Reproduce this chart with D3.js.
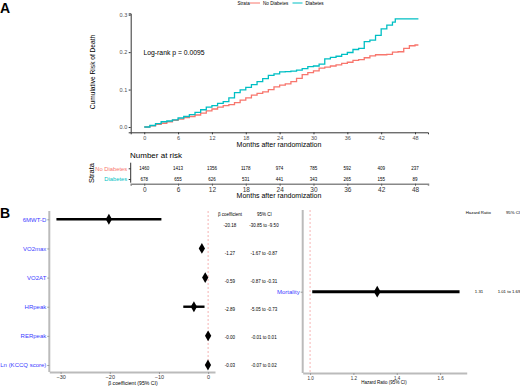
<!DOCTYPE html>
<html><head><meta charset="utf-8">
<script src="https://cdn.jsdelivr.net/npm/d3@7"></script>
<style>body{margin:0;background:#fff}svg{display:block;font-family:"Liberation Sans",Arial,sans-serif}</style>
</head><body><svg id="c" width="520" height="387"></svg>
<script>
// ---- Panel A data ----
const kmTicks = [0,6,12,18,24,30,36,42,48];
const riskTicks = [0,0.1,0.2,0.3];
const noDiabTime = [0,1,2,3,4,5,6,7,8,9,10,11,12,13,14,15,16,17,18,19,20,21,22,23,24,25,26,27,28,29,30,31,32,33,34,35,36,37,38,39,40,41,42,43,44,45,46,47,48,48.6];
const noDiabRisk = [0,0.003,0.007,0.010,0.014,0.018,0.021,0.025,0.028,0.032,0.037,0.043,0.048,0.053,0.057,0.060,0.065,0.072,0.078,0.085,0.090,0.094,0.100,0.107,0.112,0.115,0.121,0.130,0.140,0.145,0.150,0.157,0.160,0.163,0.166,0.170,0.173,0.178,0.180,0.185,0.190,0.193,0.193,0.194,0.200,0.201,0.210,0.217,0.219,0.219];
const diabTime = [0,1,2,3,4,5,6,7,8,9,10,11,12,13,14,15,16,17,18,19,20,21,22,23,24,25,26,27,28,29,30,31,32,33,34,35,36,37,38,39,40,41,42,43,44,44.5,48.6];
const diabRisk = [0,0.004,0.009,0.014,0.016,0.019,0.024,0.028,0.033,0.039,0.046,0.053,0.057,0.063,0.068,0.078,0.092,0.099,0.106,0.113,0.121,0.129,0.138,0.142,0.147,0.148,0.149,0.152,0.156,0.161,0.163,0.168,0.182,0.186,0.189,0.194,0.199,0.207,0.210,0.228,0.232,0.245,0.262,0.272,0.280,0.289,0.289];
const strata = ["No Diabetes","Diabetes"];
const strataColors = ["#F8766D","#00BFC4"];
const atRiskNoDiab = [1460,1413,1356,1178,974,785,592,409,237];
const atRiskDiab = [678,655,626,531,441,343,265,155,89];

// ---- Panel B data ----
const outcomes = ["6MWT-D","VO2max","VO2AT","HRpeak","RERpeak","Ln (KCCQ score)"];
const beta = [-20.18,-1.27,-0.59,-2.89,-0.00,-0.03];
const betaLo = [-30.85,-1.67,-0.87,-5.05,-0.01,-0.07];
const betaHi = [-9.50,-0.87,-0.31,-0.73,0.01,0.02];
const betaTicks = [-30,-20,-10,0];
const hrOutcome = ["Mortality"];
const hr = [1.31];
const hrLo = [1.01];
const hrHi = [1.69];
const hrTicks = [1.0,1.2,1.4,1.6];

const svg = d3.select("#c");
const FONT = '"Liberation Sans",Arial,sans-serif';
function txt(g,x,y,s,size,opts={}){
  const t=g.append("text").attr("x",x).attr("y",y).text(s).attr("font-size",size)
    .attr("dominant-baseline","central").attr("fill",opts.fill||"#000")
    .attr("text-anchor",opts.anchor||"start");
  if(opts.weight) t.attr("font-weight",opts.weight);
  if(opts.rotate) t.attr("transform",`rotate(${opts.rotate},${x},${y})`);
  return t;
}

// ===== Panel A =====
txt(svg,0,8,"A",14,{weight:"bold"});
const x = d3.scaleLinear().domain([-2.4,50.3]).range([130.7,428]);
const y = d3.scaleLinear().domain([-0.0142,0.3036]).range([132.3,13.35]);
const gA = svg.append("g");
// axes
const xAx = gA.append("g").attr("transform",`translate(0,${y(-0.0142)})`)
  .call(d3.axisBottom(x).tickValues(kmTicks).tickSize(2).tickPadding(1.5).tickFormat(d3.format("d")));
const yAx = gA.append("g").attr("transform",`translate(${x(-2.4)},0)`)
  .call(d3.axisLeft(y).tickValues(riskTicks).tickSize(2).tickPadding(1.5).tickFormat(d3.format(".1f")));
[xAx,yAx].forEach(a=>{
  a.select(".domain").attr("stroke","#333").attr("stroke-width",1);
  a.selectAll(".tick line").attr("stroke","#333");
  a.selectAll("text").attr("font-size",5.5).attr("fill","#4d4d4d").attr("font-family",FONT);
});
txt(gA,92,72,"Cumulative Risk of Death",6.6,{anchor:"middle",rotate:-90});
txt(gA,279,144,"Months after randomization",7,{anchor:"middle"});
txt(gA,143.5,52.3,"Log-rank p = 0.0095",6.8);
const line = d3.line().x(d=>x(d[0])).y(d=>y(d[1])).curve(d3.curveStepAfter);
[[noDiabTime,noDiabRisk],[diabTime,diabRisk]].forEach((s,i)=>{
  gA.append("path").datum(d3.zip(s[0],s[1])).attr("d",line)
    .attr("fill","none").attr("stroke",strataColors[i]).attr("stroke-width",1.3);
});
// legend
txt(svg,237.5,3,"Strata",4.6);
const legX=[250,292.5];
strata.forEach((s,i)=>{
  svg.append("line").attr("x1",legX[i]).attr("x2",legX[i]+10).attr("y1",3).attr("y2",3)
    .attr("stroke",strataColors[i]).attr("stroke-width",1);
  txt(svg,legX[i]+13,3,s,4.6);
});

// ===== Number at risk =====
const gT = svg.append("g");
txt(gT,130,155.7,"Number at risk",8);
const yT = d3.scalePoint().domain(strata).range([168.3,179]);
const tX = gT.append("g").attr("transform","translate(0,183.7)")
  .call(d3.axisBottom(x).tickValues(kmTicks).tickSize(2).tickPadding(1.5).tickFormat(d3.format("d")));
tX.select(".domain").attr("stroke","#888").attr("stroke-width",1.5);
tX.selectAll(".tick line").attr("stroke","#555");
tX.selectAll("text").attr("font-size",6.5).attr("fill","#333").attr("font-family",FONT);
const tY = gT.append("g").attr("transform",`translate(${x(-2.4)},0)`)
  .call(d3.axisLeft(yT).tickSize(2).tickPadding(1.5).tickSizeOuter(0));
tY.select(".domain").attr("stroke","#333").attr("d",`M-0,162.7V182.7`);
tY.selectAll(".tick line").attr("stroke","#333");
tY.selectAll("text").attr("font-size",5.8).attr("font-family",FONT).attr("fill",(d,i)=>strataColors[i]);
txt(gT,91.5,173,"Strata",7.5,{anchor:"middle",rotate:-90});
[atRiskNoDiab,atRiskDiab].forEach((arr,i)=>{
  arr.forEach((v,j)=>txt(gT,x(kmTicks[j]),yT(strata[i]),v,4.5,{anchor:"middle"}));
});
txt(gT,279,195.7,"Months after randomization",7,{anchor:"middle"});

// ===== Panel B left =====
txt(svg,0,213,"B",14,{weight:"bold"});
const gB = svg.append("g");
const bx = d3.scaleLinear().domain([-32.3,1.4]).range([49.3,215]);
const by = d3.scalePoint().domain(outcomes).range([219.3,365]);
const bxAx = gB.append("g").attr("transform","translate(0,372)")
  .call(d3.axisBottom(bx).tickValues(betaTicks).tickSize(2).tickPadding(1.5).tickSizeOuter(0));
bxAx.select(".domain").attr("stroke","#bbb").attr("stroke-width",2);
bxAx.selectAll(".tick line").attr("stroke","#999");
bxAx.selectAll("text").attr("font-size",5.5).attr("fill","#333").attr("font-family",FONT);
const byAx = gB.append("g").attr("transform",`translate(${bx(-32.3)},0)`)
  .call(d3.axisLeft(by).tickSize(2).tickPadding(1).tickSizeOuter(0));
byAx.select(".domain").attr("stroke","#bbb").attr("stroke-width",2).attr("d","M0,211V372");
byAx.selectAll(".tick line").attr("stroke","#999");
byAx.selectAll("text").attr("font-size",6).attr("fill","#3b3bff").attr("font-family",FONT);
gB.append("line").attr("x1",bx(0)).attr("x2",bx(0)).attr("y1",211).attr("y2",371)
  .attr("stroke","#f4a0a0").attr("stroke-width",0.8).attr("stroke-dasharray","2,2");
const diamond = d3.symbol().type(d3.symbolDiamond);
outcomes.forEach((o,i)=>{
  gB.append("line").attr("x1",bx(betaLo[i])).attr("x2",bx(betaHi[i])).attr("y1",by(o)).attr("y2",by(o))
    .attr("stroke","#000").attr("stroke-width",2.4);
  gB.append("path").attr("d",diamond.size(34)()).attr("transform",`translate(${bx(beta[i])},${by(o)})`).attr("fill","#000");
});
txt(gB,133,383,"β coefficient (95% CI)",5.2,{anchor:"middle"});
// table
const tyB = d3.scalePoint().domain(outcomes).range([225,365]);
txt(gB,230,214,"β coefficient",4.5,{anchor:"middle"});
txt(gB,264.5,214,"95% CI",4.5,{anchor:"middle"});
outcomes.forEach((o,i)=>{
  txt(gB,230,tyB(o),beta[i].toFixed(2).replace("0.00","-0.00").replace("--","-"),4.5,{anchor:"middle"});
  txt(gB,264,tyB(o),`${betaLo[i].toFixed(2)} to ${betaHi[i].toFixed(2)}`,4.5,{anchor:"middle"});
});

// ===== Panel B right =====
const gR = svg.append("g");
const rx = d3.scaleLinear().domain([0.966,1.723]).range([302.7,466.7]);
const ry = d3.scalePoint().domain(hrOutcome).range([291.7,291.7]);
const rxAx = gR.append("g").attr("transform","translate(0,373)")
  .call(d3.axisBottom(rx).tickValues(hrTicks).tickSize(2).tickPadding(1.5).tickSizeOuter(0).tickFormat(d3.format(".1f")));
rxAx.select(".domain").attr("stroke","#bbb").attr("stroke-width",2);
rxAx.selectAll(".tick line").attr("stroke","#999");
rxAx.selectAll("text").attr("font-size",4.5).attr("fill","#333").attr("font-family",FONT);
const ryAx = gR.append("g").attr("transform",`translate(${rx(0.966)},0)`)
  .call(d3.axisLeft(ry).tickSize(2).tickPadding(1).tickSizeOuter(0));
ryAx.select(".domain").attr("stroke","#bbb").attr("stroke-width",2).attr("d","M0,210V373");
ryAx.selectAll(".tick line").attr("stroke","#999");
ryAx.selectAll("text").attr("font-size",6).attr("fill","#3b3bff").attr("font-family",FONT);
gR.append("line").attr("x1",rx(1)).attr("x2",rx(1)).attr("y1",210).attr("y2",372)
  .attr("stroke","#f4a0a0").attr("stroke-width",0.8).attr("stroke-dasharray","2,2");
hrOutcome.forEach((o,i)=>{
  gR.append("line").attr("x1",rx(hrLo[i])).attr("x2",rx(hrHi[i])).attr("y1",ry(o)).attr("y2",ry(o))
    .attr("stroke","#000").attr("stroke-width",3);
  gR.append("path").attr("d",diamond.size(40)()).attr("transform",`translate(${rx(hr[i])},${ry(o)})`).attr("fill","#000");
  txt(gR,479,ry(o),hr[i].toFixed(2),4.3,{anchor:"middle"});
  txt(gR,509,ry(o),`${hrLo[i].toFixed(2)} to ${hrHi[i].toFixed(2)}`,4.3,{anchor:"middle"});
});
txt(gR,478.3,212,"Hazard Ratio",4.3,{anchor:"middle"});
txt(gR,513,212,"95% CI",4.3,{anchor:"middle"});
txt(gR,384,382,"Hazard Ratio (95% CI)",4.5,{anchor:"middle"});
</script></body></html>
